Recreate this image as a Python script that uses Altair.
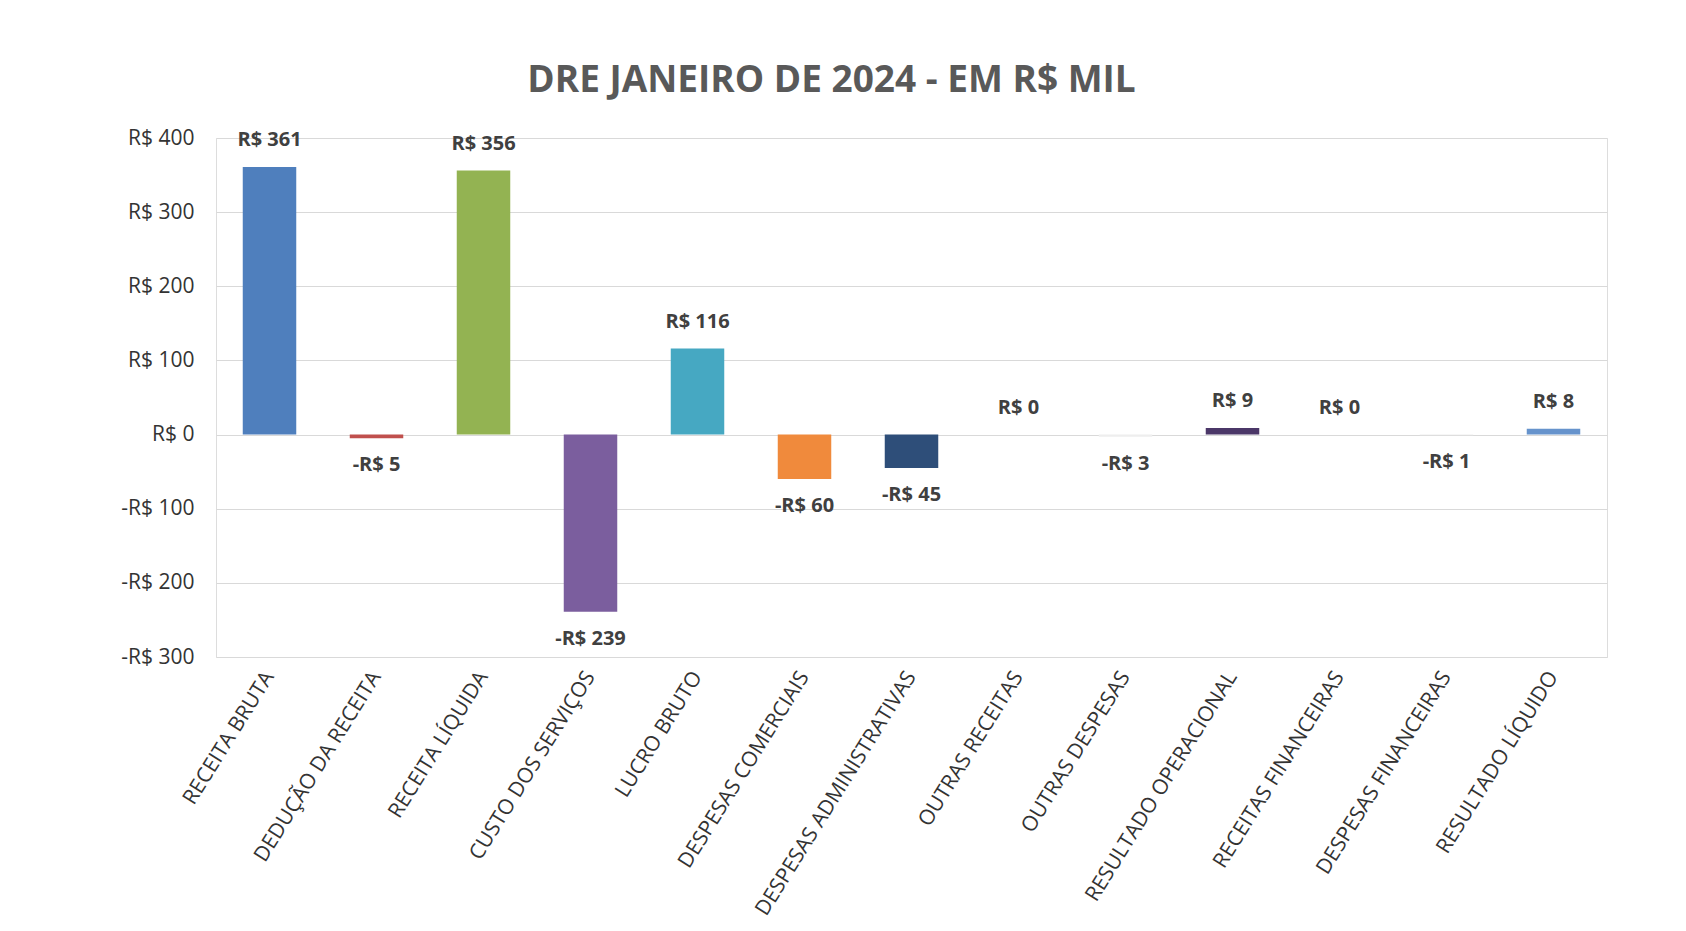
import altair as alt
import pandas as pd

categories = [
    "RECEITA BRUTA", "DEDUÇÃO DA RECEITA", "RECEITA LÍQUIDA", "CUSTO DOS SERVIÇOS",
    "LUCRO BRUTO", "DESPESAS COMERCIAIS", "DESPESAS ADMINISTRATIVAS", "OUTRAS RECEITAS",
    "OUTRAS DESPESAS", "RESULTADO OPERACIONAL", "RECEITAS FINANCEIRAS",
    "DESPESAS FINANCEIRAS", "RESULTADO LÍQUIDO",
]
values = [361, -5, 356, -239, 116, -60, -45, 0, -3, 9, 0, -1, 8]
colors = [
    "#4f7fbd", "#c0504d", "#93b352", "#7b5e9e", "#46a8c2", "#f08a3c", "#2e4e79",
    "#eeeeee", "#eeeeee", "#4b3768", "#eeeeee", "#eeeeee", "#6693cc",
]
y_ticks = [-300, -200, -100, 0, 100, 200, 300, 400]

df = pd.DataFrame({"categoria": categories, "valor": values})

FONT = "Open Sans"

x_enc = alt.X(
    "categoria:N",
    sort=categories,
    title=None,
    scale=alt.Scale(paddingInner=0.5, paddingOuter=0.25),
    axis=alt.Axis(
        labelAngle=-58,
        labelFontSize=21,
        labelFont=FONT,
        labelColor="#333333",
        labelPadding=16,
        ticks=False,
        domain=False,
        labelLimit=400,
    ),
)

y_enc = alt.Y(
    "valor:Q",
    title=None,
    scale=alt.Scale(domain=[-300, 400], nice=False),
    axis=alt.Axis(
        values=y_ticks,
        labelExpr="datum.value < 0 ? '-R$ ' + format(abs(datum.value), 'd') : 'R$ ' + format(datum.value, 'd')",
        labelFontSize=21,
        labelFont=FONT,
        labelColor="#333333",
        labelPadding=22,
        ticks=False,
        domain=False,
        gridColor="#d9d9d9",
        gridWidth=1,
    ),
)

base = alt.Chart(df).transform_calculate(
    rotulo="(datum.valor < 0 ? '-' : '') + 'R$ ' + format(abs(datum.valor), 'd')"
)

bars = base.mark_bar().encode(
    x=x_enc,
    y=y_enc,
    color=alt.Color("categoria:N", sort=categories,
                    scale=alt.Scale(domain=categories, range=colors), legend=None),
)

labels_pos = base.transform_filter("datum.valor >= 0").mark_text(
    font=FONT, fontSize=20, fontWeight="bold", color="#404040", baseline="middle", dy=-27
).encode(x=alt.X("categoria:N", sort=categories), y="valor:Q", text="rotulo:N")

labels_neg = base.transform_filter("datum.valor < 0").mark_text(
    font=FONT, fontSize=20, fontWeight="bold", color="#404040", baseline="middle", dy=27
).encode(x=alt.X("categoria:N", sort=categories), y="valor:Q", text="rotulo:N")

chart = (
    alt.layer(bars, labels_pos, labels_neg)
    .properties(
        width=1391,
        height=519,
        title=alt.TitleParams(
            "DRE JANEIRO DE 2024 - EM R$ MIL",
            font=FONT,
            fontSize=37,
            fontWeight="bold",
            color="#595959",
            anchor="middle",
            dx=-80,
            offset=27,
        ),
        autosize=alt.AutoSizeParams(type="none"),
        padding={"left": 208, "top": 130, "right": 71, "bottom": 266},
    )
    .configure_view(stroke="#d9d9d9", strokeWidth=1)
    .configure(background="white")
)

chart.save("out.html", embed_options={"renderer": "svg", "actions": False})
